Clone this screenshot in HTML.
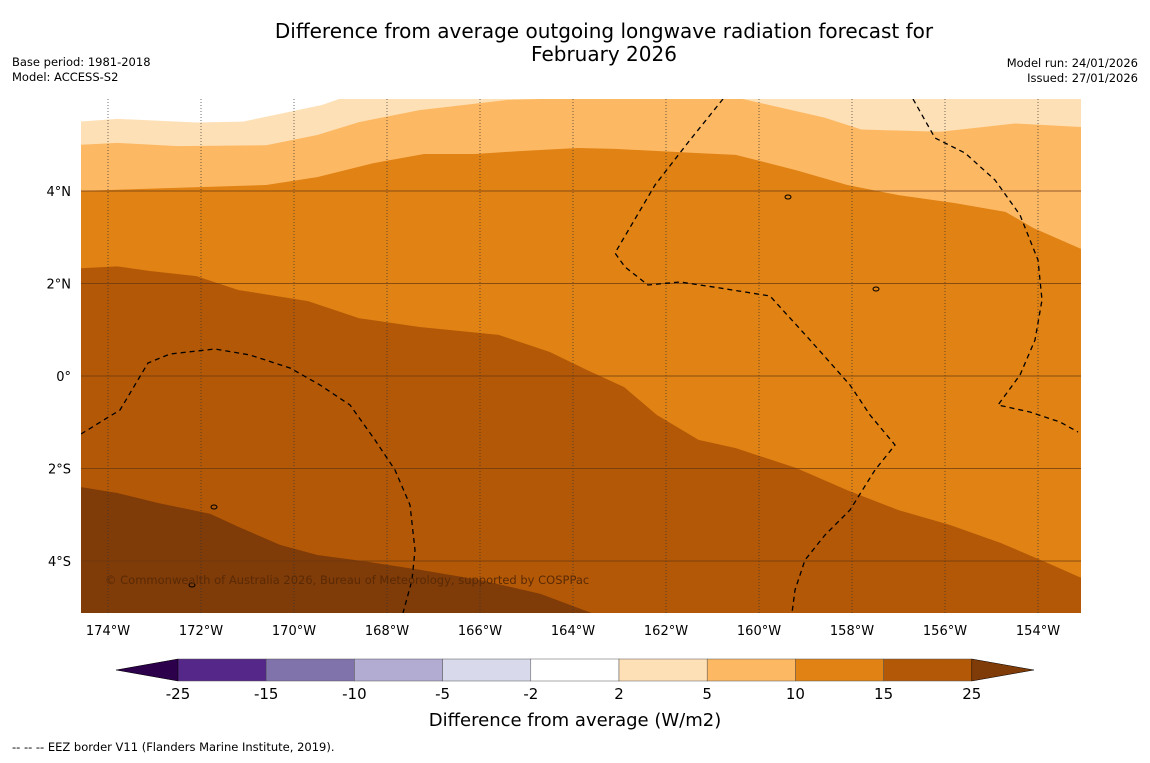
<!DOCTYPE html>
<html><head><meta charset="utf-8">
<style>
body{margin:0;background:#fff;font-family:"Liberation Sans",sans-serif;}
svg text{font-family:"DejaVu Sans","Liberation Sans",sans-serif;}
</style></head>
<body>
<svg id="chart" width="1150" height="758" viewBox="0 0 1150 758" xmlns="http://www.w3.org/2000/svg">
<rect width="1150" height="758" fill="#fff"/>
<text x="604" y="38" font-size="20" text-anchor="middle">Difference from average outgoing longwave radiation forecast for</text>
<text x="604" y="61" font-size="20" text-anchor="middle">February 2026</text>
<text x="12" y="66" font-size="11.5">Base period: 1981-2018</text>
<text x="12" y="81" font-size="11.5">Model: ACCESS-S2</text>
<text x="1138" y="67" font-size="11.5" text-anchor="end">Model run: 24/01/2026</text>
<text x="1138" y="82" font-size="11.5" text-anchor="end">Issued: 27/01/2026</text>
<defs><clipPath id="mapclip"><rect x="81" y="99" width="1000" height="514"/></clipPath></defs>
<g id="map" clip-path="url(#mapclip)"></g>
<g id="axes"></g>
<g id="cbar"></g>
<text x="575" y="726" font-size="18" text-anchor="middle">Difference from average (W/m2)</text>
<text x="12" y="751" font-size="11.5">--  --  -- EEZ border V11 (Flanders Marine Institute, 2019).</text>
</svg>
<script>
// ---- data ----
const lonTicks=[-174,-172,-170,-168,-166,-164,-162,-160,-158,-156,-154];
const latTicks=[4,2,0,-2,-4];
const cbLevels=[-25,-15,-10,-5,-2,2,5,10,15,25];
const cbColors=["#542788","#8073ac","#b2abd2","#d8daeb","#ffffff","#fee0b6","#fdb863","#e08214","#b35806"];
const extLow="#2d004b", extHigh="#7f3b08";
// contour boundaries [lon, lat]
const bndA=[[-174.6,5.5],[-173.8,5.56],[-172.1,5.48],[-171.1,5.5],[-170.1,5.71],[-169.4,5.86],[-169.0,6.0],[-169.0,6.2]];
const bndB=[[-174.6,5.0],[-173.8,5.04],[-172.5,4.97],[-170.6,4.99],[-169.5,5.21],[-168.6,5.49],[-167.3,5.75],[-165.4,5.97],[-164.3,6.0],[-164.3,6.2]];
const bndB2=[[-160.4,6.2],[-160.4,6.0],[-158.6,5.59],[-157.8,5.33],[-156.1,5.28],[-154.5,5.46],[-153.0,5.38],[-152.9,5.38],[-152.9,6.2]];
const bndC=[[-174.6,4.0],[-173.4,4.04],[-170.6,4.13],[-169.5,4.3],[-168.3,4.6],[-167.2,4.8],[-166.1,4.8],[-165.2,4.86],[-163.9,4.93],[-163.1,4.91],[-161.3,4.82],[-160.5,4.78],[-159.2,4.45],[-158.1,4.13],[-157.0,3.91],[-155.8,3.74],[-154.7,3.55],[-154.1,3.2],[-153.1,2.76],[-152.9,2.7]];
const bndD=[[-174.6,2.33],[-173.8,2.37],[-173.1,2.27],[-172.1,2.16],[-171.2,1.86],[-169.7,1.62],[-168.6,1.25],[-167.3,1.06],[-165.6,0.89],[-164.5,0.52],[-163.7,0.13],[-162.9,-0.24],[-162.2,-0.84],[-161.3,-1.38],[-160.5,-1.56],[-159.2,-1.99],[-158.1,-2.47],[-157.0,-2.9],[-155.9,-3.22],[-154.8,-3.61],[-153.8,-4.04],[-153.1,-4.35],[-152.9,-4.4]];
const bndE=[[-174.6,-2.4],[-173.8,-2.53],[-172.9,-2.75],[-171.8,-2.98],[-171.2,-3.26],[-170.3,-3.65],[-169.5,-3.87],[-168.4,-4.02],[-167.3,-4.19],[-166.0,-4.41],[-164.7,-4.71],[-163.4,-5.2],[-163.0,-5.6],[-152.9,-5.6]];
// ---- axes ----
const X=lon=>108+(lon+174)*46.5;
const Y=lat=>376-lat*46.25;
const NS="http://www.w3.org/2000/svg";
function mk(tag,attrs,parent){const e=document.createElementNS(NS,tag);for(const k in attrs)e.setAttribute(k,attrs[k]);parent.appendChild(e);return e;}
const map=document.getElementById('map');
function ptsAbove(b){let s=b.map(p=>X(p[0])+','+Y(p[1])).join(' ');const l=b[0],r=b[b.length-1];return s+' '+X(r[0])+','+(Y(7))+' '+X(l[0])+','+Y(7);}
let bg=mk('rect',{x:81,y:99,width:1000,height:514,fill:extHigh},map);

const layers=[[bndE,cbColors[8],'region-15-25'],[bndD,cbColors[7],'region-10-15'],[bndC,cbColors[6],'region-5-10'],[bndB,cbColors[5],'region-2-5-west'],[bndA,cbColors[4],'region-neutral'],[bndB2,cbColors[5],'region-2-5-east']];
layers.forEach(([b,c,n])=>{const p=mk('polygon',{points:ptsAbove(b),fill:c},map);

});
// grid
lonTicks.forEach(l=>{const g=mk('line',{x1:X(l),x2:X(l),y1:99,y2:613,stroke:'#333','stroke-width':0.7,'stroke-dasharray':'1,2'},map);

});
latTicks.forEach(l=>{const g=mk('line',{x1:81,x2:1081,y1:Y(l),y2:Y(l),stroke:'#6b3a10','stroke-width':0.8},map);

});
// EEZ dashed borders
const eez=["M81,434 L120,410 L148,363 L170,354 L215,349 L250,355 L290,368 L320,385 L350,405 L375,440 L395,470 L410,505 L415,550 L412,580 L403,613",
"M723,99 L690,140 L655,185 L615,253 L625,267 L648,285 L680,282 L720,288 L770,296 L810,340 L850,385 L870,415 L895,445 L875,470 L850,510 L825,535 L805,560 L795,590 L792,613",
"M913,99 L935,138 L965,153 L995,180 L1020,215 L1038,260 L1042,300 L1035,340 L1020,375 L998,405 L1030,412 L1060,422 L1078,432"];
eez.forEach(d=>{const p=mk('path',{d:d,fill:'none',stroke:'#000','stroke-width':1.3,'stroke-dasharray':'5,4'},map);

});
// islands
[[788,197],[876,289],[214,507],[192,585]].forEach(([x,y])=>{const e=mk('ellipse',{cx:x,cy:y,rx:3,ry:2,fill:'none',stroke:'#000','stroke-width':1},map);

});
const cp=mk('text',{x:105,y:584,'font-size':11.5,fill:'#5a2a05'},map);


cp.textContent='© Commonwealth of Australia 2026, Bureau of Meteorology, supported by COSPPac';
// tick labels
const axes=document.getElementById('axes');
lonTicks.forEach(l=>{const t=mk('text',{x:X(l),y:635,'font-size':13,'text-anchor':'middle'},axes);


t.textContent=Math.abs(l)+'°W';});
latTicks.forEach(l=>{const t=mk('text',{x:71,y:Y(l)+5,'font-size':13,'text-anchor':'end'},axes);


t.textContent=l===0?'0°':Math.abs(l)+'°'+(l>0?'N':'S');});
// colorbar
const cb=document.getElementById('cbar');
const cx0=178,cw=88.2,cy=659,ch=22;
cbColors.forEach((c,i)=>{const r=mk('rect',{x:cx0+i*cw,y:cy,width:cw,height:ch,fill:c,stroke:'#555','stroke-width':0.5},cb);

});
const cend=cx0+cbColors.length*cw;
const tl=mk('polygon',{points:`${cx0},${cy} ${cx0},${cy+ch} 116,${cy+ch/2}`,fill:extLow,stroke:'#000','stroke-width':0.5},cb);


const tr=mk('polygon',{points:`${cend},${cy} ${cend},${cy+ch} 1034,${cy+ch/2}`,fill:extHigh,stroke:'#000','stroke-width':0.5},cb);


cbLevels.forEach((v,i)=>{const t=mk('text',{x:cx0+i*cw,y:699,'font-size':15,'text-anchor':'middle'},cb);


t.textContent=v;});
</script>
</body></html>
